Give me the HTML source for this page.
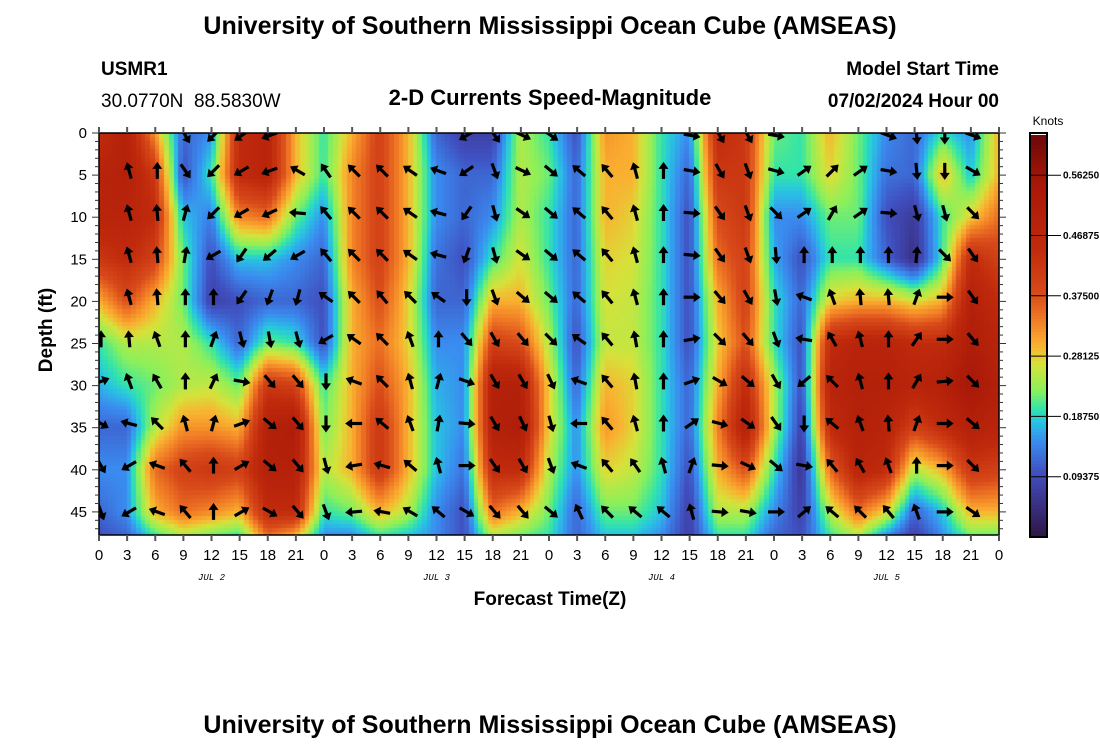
<!DOCTYPE html>
<html><head><meta charset="utf-8"><style>
html,body{margin:0;padding:0;background:#fff;}
#wrap{position:relative;width:1100px;height:750px;overflow:hidden;font-family:"Liberation Sans",sans-serif;}
</style></head><body>
<div id="wrap">
<canvas id="heat" width="1100" height="750" style="position:absolute;left:0;top:0"></canvas>
<svg id="svg" width="1100" height="750" style="position:absolute;left:0;top:0" xmlns="http://www.w3.org/2000/svg">
<text x="550" y="34" text-anchor="middle" font-size="25" font-weight="bold">University of Southern Mississippi Ocean Cube (AMSEAS)</text>
<text x="101" y="75" font-size="19" font-weight="bold">USMR1</text>
<text x="101" y="107" font-size="19" xml:space="preserve">30.0770N  88.5830W</text>
<text x="550" y="105" text-anchor="middle" font-size="22" font-weight="bold">2-D Currents Speed-Magnitude</text>
<text x="999" y="75" text-anchor="end" font-size="19" font-weight="bold">Model Start Time</text>
<text x="999" y="107" text-anchor="end" font-size="19" font-weight="bold">07/02/2024 Hour 00</text>
<text x="550" y="605" text-anchor="middle" font-size="19" font-weight="bold">Forecast Time(Z)</text>
<text transform="translate(52,330) rotate(-90)" text-anchor="middle" font-size="19" font-weight="bold">Depth (ft)</text>
<text x="550" y="733" text-anchor="middle" font-size="25" font-weight="bold">University of Southern Mississippi Ocean Cube (AMSEAS)</text>
<text x="1048" y="125" text-anchor="middle" font-size="12">Knots</text>
<g id="axes"></g>
<g id="arrows"></g>
<g id="cbar"></g>
</svg>
</div>
<script>
// ---- data ----
const hours = [0,3,6,9,12,15,18,21,24,27,30,33,36,39,42,45,48,51,54,57,60,63,66,69,72,75,78,81,84,87,90,93,96];
const depths = [0,5,10,15,20,25,30,35,40,45,48];
const xTickLabels = ["0","3","6","9","12","15","18","21","0","3","6","9","12","15","18","21","0","3","6","9","12","15","18","21","0","3","6","9","12","15","18","21","0"];
const dayLabels = ["JUL 2","JUL 3","JUL 4","JUL 5"];
const dayHours = [12,36,60,84];
const yTicks = [0,5,10,15,20,25,30,35,40,45];
const cbarTicks = [0.09375,0.1875,0.28125,0.375,0.46875,0.5625];
const cbarLabels = ["0.09375","0.18750","0.28125","0.37500","0.46875","0.56250"];
// speed[column by hour][row by depth]
const speed = [
[.45,.48,.48,.42,.30,.20,.17,.12,.15,.12,.10],
[.50,.50,.48,.45,.38,.25,.20,.12,.15,.15,.12],
[.32,.42,.45,.40,.30,.25,.22,.25,.35,.30,.20],
[.12,.10,.18,.22,.22,.25,.25,.32,.40,.35,.25],
[.15,.20,.14,.10,.08,.20,.26,.32,.42,.33,.22],
[.45,.45,.33,.18,.10,.12,.22,.30,.40,.30,.20],
[.48,.48,.35,.18,.12,.22,.42,.50,.50,.45,.35],
[.30,.30,.22,.15,.12,.20,.40,.52,.50,.45,.30],
[.20,.20,.15,.12,.10,.10,.20,.22,.25,.20,.15],
[.30,.33,.33,.33,.30,.30,.30,.30,.30,.22,.15],
[.40,.40,.40,.40,.38,.35,.38,.42,.42,.30,.20],
[.30,.30,.30,.30,.28,.28,.30,.30,.30,.25,.18],
[.12,.15,.15,.13,.12,.15,.17,.18,.18,.15,.15],
[.08,.12,.12,.10,.12,.15,.15,.15,.13,.10,.10],
[.08,.12,.15,.20,.30,.40,.50,.50,.45,.35,.25],
[.25,.25,.25,.27,.30,.38,.50,.52,.45,.30,.22],
[.20,.22,.20,.20,.22,.25,.28,.28,.25,.22,.20],
[.10,.12,.12,.12,.12,.10,.12,.15,.15,.12,.12],
[.32,.30,.30,.28,.27,.26,.30,.32,.28,.22,.18],
[.30,.30,.28,.27,.26,.26,.28,.28,.26,.22,.18],
[.20,.20,.20,.20,.20,.20,.20,.20,.20,.18,.15],
[.15,.12,.10,.10,.10,.10,.12,.12,.10,.08,.08],
[.45,.42,.38,.35,.30,.28,.30,.33,.30,.25,.20],
[.42,.42,.42,.40,.40,.38,.45,.50,.38,.25,.20],
[.22,.20,.15,.17,.20,.20,.25,.25,.20,.15,.12],
[.20,.20,.15,.10,.12,.10,.10,.08,.06,.08,.10],
[.30,.28,.22,.20,.28,.45,.48,.45,.35,.25,.20],
[.22,.22,.22,.20,.30,.48,.50,.50,.48,.35,.25],
[.15,.13,.10,.12,.30,.48,.50,.48,.45,.28,.15],
[.12,.12,.07,.05,.27,.45,.48,.40,.25,.12,.08],
[.20,.30,.20,.20,.30,.45,.50,.45,.30,.18,.15],
[.15,.18,.28,.45,.50,.52,.55,.50,.42,.30,.22],
[.30,.30,.35,.40,.45,.48,.50,.48,.40,.30,.22]
];
const arrowDepths = [0.3,4.5,9.5,14.5,19.5,24.5,29.5,34.5,39.5,45];
// arrow direction in degrees (0 = up, 90 = right), null = no arrow
const dirs = [
[null,null,null,null,null,0,70,120,150,160],
[null,345,345,345,345,355,340,285,240,240],
[null,0,355,355,355,340,330,315,290,290],
[150,145,15,10,0,0,0,345,320,320],
[225,225,225,240,0,20,25,15,0,0],
[235,240,240,215,215,165,100,70,60,60],
[250,250,245,230,200,170,140,130,130,120],
[null,300,275,240,195,165,140,140,140,140],
[null,325,320,320,305,240,180,180,165,160],
[null,315,315,315,315,305,290,270,260,265],
[null,315,315,315,320,315,315,310,285,280],
[null,305,305,305,315,340,345,340,310,300],
[null,290,285,285,305,0,15,10,345,310],
[240,235,215,200,180,140,110,95,90,120],
[145,160,165,165,160,150,150,150,145,140],
[115,115,125,125,130,140,150,155,150,140],
[125,130,130,130,130,135,155,165,160,130],
[null,310,310,310,310,305,290,270,290,335],
[null,320,320,320,320,320,320,320,320,315],
[null,345,345,345,345,350,350,345,325,310],
[null,0,0,0,0,0,0,0,345,310],
[100,100,95,95,90,80,70,55,20,345],
[150,150,145,145,140,135,120,105,95,95],
[150,160,160,160,150,140,130,125,115,100],
[100,105,135,175,170,160,150,145,130,90],
[null,55,55,0,290,280,230,180,100,50],
[null,45,30,0,340,330,315,310,320,310],
[null,55,55,0,355,345,345,340,330,315],
[110,100,95,0,355,0,0,355,340,320],
[175,175,165,5,20,35,30,20,0,340],
[180,180,165,135,90,90,85,90,90,90],
[110,120,135,145,145,140,135,130,135,125],
[null,null,null,null,null,null,null,null,null,null]
];
// ---- geometry ----
const X0=99,X1=999,Y0=133,Y1=535;
const xs = h => X0 + h*(X1-X0)/96;
const ys = d => Y0 + d*8.42;
const VMAX=0.625;
const stops=[[0,[46,22,66]],[0.05,[58,48,130]],[0.1,[64,78,190]],[0.15,[58,140,240]],[0.18,[40,196,226]],[0.2,[50,228,170]],[0.23,[140,240,90]],[0.27,[214,226,58]],[0.3,[250,176,48]],[0.34,[240,122,37]],[0.38,[216,74,26]],[0.45,[192,42,12]],[0.55,[168,24,8]],[0.625,[110,8,8]]];
function cmap(v){v=Math.max(0,Math.min(VMAX,v));for(let i=1;i<stops.length;i++){if(v<=stops[i][0]){const a=stops[i-1],b=stops[i];const t=(v-a[0])/(b[0]-a[0]);return 'rgb('+a[1].map((c,k)=>Math.round(c+(b[1][k]-c)*t)).join(',')+')';}}return 'rgb(110,8,8)';}
function interp(h,d){
  let i=0;while(i<hours.length-2&&hours[i+1]<h)i++;
  let j=0;while(j<depths.length-2&&depths[j+1]<d)j++;
  const tx=Math.max(0,Math.min(1,(h-hours[i])/(hours[i+1]-hours[i])));
  const ty=Math.max(0,Math.min(1,(d-depths[j])/(depths[j+1]-depths[j])));
  const a=speed[i][j],b=speed[i+1][j],c=speed[i][j+1],e=speed[i+1][j+1];
  return a*(1-tx)*(1-ty)+b*tx*(1-ty)+c*(1-tx)*ty+e*tx*ty;
}
// heatmap
const ctx=document.getElementById('heat').getContext('2d');
const dh=0.5,dd=0.5;
const dmax=(Y1-Y0)/8.42;
for(let h=0;h<96;h+=dh){for(let d=0;d<dmax;d+=dd){
  ctx.fillStyle=cmap(interp(h+dh/2,d+dd/2));
  const x=xs(h),y=ys(d);
  ctx.fillRect(Math.floor(x),Math.floor(y),Math.ceil(xs(h+dh)-Math.floor(x)),Math.ceil(Math.min(Y1,ys(d+dd))-Math.floor(y)));
}}
const NS='http://www.w3.org/2000/svg';
function mk(tag,attrs,parent){const e=document.createElementNS(NS,tag);for(const k in attrs)e.setAttribute(k,attrs[k]);parent.appendChild(e);return e;}
// arrows
const ag=document.getElementById('arrows');
const cp=mk('clipPath',{id:'pc'},ag);
mk('rect',{x:X0,y:Y0,width:X1-X0,height:Y1-Y0},cp);
const ga=mk('g',{'clip-path':'url(#pc)'},ag);
for(let i=0;i<hours.length;i++){for(let j=0;j<arrowDepths.length;j++){
  const a=dirs[i][j]; if(a===null)continue;
  const cx=xs(hours[i])+2,cy=ys(arrowDepths[j]);
  const g=mk('g',{transform:'translate('+cx+','+cy+') rotate('+a+')'},ga);
  
  
  mk('line',{x1:0,y1:8,x2:0,y2:-3,stroke:'#000','stroke-width':3.2},g);
  mk('polygon',{points:'0,-9 -5,-2 5,-2',fill:'#000'},g);
}}
// axes
const ax=document.getElementById('axes');
mk('rect',{x:X0,y:Y0,width:X1-X0,height:Y1-Y0,fill:'none',stroke:'#000','stroke-width':1.5},ax);
for(let i=0;i<hours.length;i++){
  const x=xs(hours[i]);
  mk('line',{x1:x,y1:Y1,x2:x,y2:Y1+6,stroke:'#555','stroke-width':2},ax);
  mk('line',{x1:x,y1:Y0,x2:x,y2:Y0-6,stroke:'#555','stroke-width':2},ax);
  const t=mk('text',{x:x,y:Y1+25,'text-anchor':'middle','font-size':15},ax);t.textContent=xTickLabels[i];
  
  
}
for(let k=0;k<dayLabels.length;k++){
  const t=mk('text',{x:xs(dayHours[k]),y:Y1+45,'text-anchor':'middle','font-size':9,'font-style':'italic','font-family':'Liberation Mono, monospace'},ax);t.textContent=dayLabels[k];
  
  
}
for(let d=0;d<=47;d++){
  const y=ys(d),maj=d%5===0;
  mk('line',{x1:X0,y1:y,x2:X0-(maj?7:4),y2:y,stroke:'#333','stroke-width':1},ax);
  mk('line',{x1:X1,y1:y,x2:X1+(maj?7:4),y2:y,stroke:'#333','stroke-width':1},ax);
}
for(const d of yTicks){
  const t=mk('text',{x:X0-12,y:ys(d)+5,'text-anchor':'end','font-size':15},ax);t.textContent=String(d);
  
  
}
// colorbar
const cb=document.getElementById('cbar');
const CX=1030,CW=17,cy=v=>Y1+2-(v/VMAX)*(Y1-Y0);
for(let v=0;v<VMAX;v+=0.005){mk('rect',{x:CX,y:cy(v+0.005),width:CW,height:(Y1-Y0)*0.005/VMAX+0.8,fill:cmap(v+0.0025)},cb);}
mk('rect',{x:CX,y:Y0,width:CW,height:Y1-Y0+2,fill:'none',stroke:'#000','stroke-width':2},cb);
for(let k=0;k<cbarTicks.length;k++){
  const y=cy(cbarTicks[k]);
  mk('line',{x1:CX,y1:y,x2:CX+CW+14,y2:y,stroke:'#000','stroke-width':1},cb);
  const t=mk('text',{x:CX+CW+16,y:y+3.5,'font-size':10,'font-weight':'bold'},cb);t.textContent=cbarLabels[k];
  
  
}
</script>
</body></html>
